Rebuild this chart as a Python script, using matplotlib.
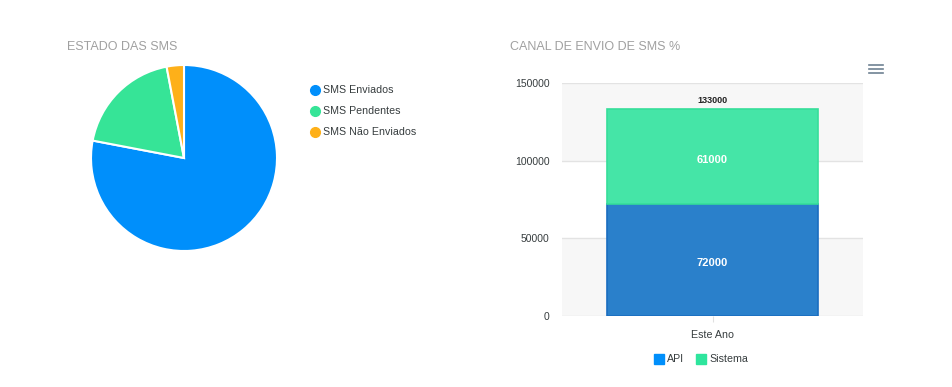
import matplotlib
matplotlib.use("Agg")
import matplotlib.pyplot as plt
from matplotlib.lines import Line2D
from matplotlib.patches import Rectangle

plt.rcParams['font.family'] = ['Liberation Sans', 'DejaVu Sans']

# Pie data
pie_labels = ["SMS Enviados", "SMS Pendentes", "SMS Não Enviados"]
pie_values = [78, 19, 3]
pie_colors = ["#008FFB", "#36E497", "#FEB019"]

# Stacked bar data
categories = ["Este Ano"]
series_names = ["API", "Sistema"]
api_values = [72000]
sistema_values = [61000]
yticks = [0, 50000, 100000, 150000]

fig = plt.figure(figsize=(9.52, 3.87), dpi=100)
W, H = 952, 387

def fx(x): return x / W
def fy(y): return 1 - y / H

# ---------------- Pie ----------------
fig.text(fx(67), fy(47), "ESTADO DAS SMS", color="#a0a0a0", fontsize=9.0, va="center", ha="left")
cx, cy, r = 184, 158, 93
axp = fig.add_axes([fx(cx - r), fy(cy + r), 2 * r / W, 2 * r / H])
axp.pie(pie_values, colors=pie_colors, startangle=90, counterclock=False,
        wedgeprops=dict(edgecolor="white", linewidth=1.5), radius=1.0)
axp.set_xlim(-1.0, 1.0); axp.set_ylim(-1.0, 1.0)
axp.set_aspect("auto")
axp.axis("off")

for i, (lab, col) in enumerate(zip(pie_labels, pie_colors)):
    y = 90 + 21 * i
    fig.add_artist(Line2D([fx(315)], [fy(y)], marker="o", markersize=7, color=col,
                          transform=fig.transFigure, linestyle="none"))
    fig.text(fx(323), fy(y), lab, color="#373d3f", fontsize=7.7, va="center", ha="left")

# ---------------- Stacked bar ----------------
fig.text(fx(510), fy(47), "CANAL DE ENVIO DE SMS %", color="#a0a0a0", fontsize=9.0, va="center", ha="left")
left, right, top, bottom = 562, 863, 83, 316
axb = fig.add_axes([fx(left), fy(bottom), (right - left) / W, (bottom - top) / H])
axb.set_xlim(-0.5, 0.5)
axb.set_ylim(0, 150000)
# alternating bands
for i in range(len(yticks) - 1):
    if i % 2 == 0:
        axb.axhspan(yticks[i], yticks[i + 1], color="#f7f7f7", zorder=0, lw=0)
for t in yticks:
    axb.axhline(t, color="#e3e3e3", lw=1, zorder=1)

x = list(range(len(categories)))
bw = 0.698
b1 = axb.bar(x, api_values, width=bw, color="#2A80CB", edgecolor="#1A6DC0", linewidth=1.2, zorder=2)
b2 = axb.bar(x, sistema_values, bottom=api_values, width=bw, color="#45E5A7", edgecolor="#36DE9A",
             linewidth=1.2, zorder=2)
for xi, a, s in zip(x, api_values, sistema_values):
    axb.text(xi, a / 2 - 2000, f"{a}", color="white", fontsize=8, fontweight="bold", ha="center", va="center", zorder=3)
    axb.text(xi, a + s / 2 - 2000, f"{s}", color="white", fontsize=8, fontweight="bold", ha="center", va="center", zorder=3)
    axb.text(xi, a + s + 5500, f"{a + s}", color="#222222", fontsize=6.5, fontweight="bold", ha="center", va="center", zorder=3)

axb.set_yticks(yticks)
axb.set_yticklabels([str(t) for t in yticks], color="#373d3f", fontsize=7.5)
axb.set_xticks(x)
axb.set_xticklabels(categories, color="#373d3f", fontsize=7.7)
axb.tick_params(axis="y", length=0, pad=9)
axb.tick_params(axis="x", length=4, color="#e0e0e0", pad=6)
for sp in axb.spines.values():
    sp.set_visible(False)

# bar legend
for name, col, lx in [("API", "#008FFB", 654), ("Sistema", "#2EE59D", 696)]:
    fig.add_artist(Rectangle((fx(lx), fy(364)), 10 / W, 10 / H, color=col, transform=fig.transFigure))
    fig.text(fx(lx + 13), fy(359), name, color="#373d3f", fontsize=7.7, va="center", ha="left")

# hamburger menu icon
for yy in [65, 69, 73]:
    fig.add_artist(Line2D([fx(869), fx(883)], [fy(yy), fy(yy)], color="#6e8192", lw=1.2,
                          transform=fig.transFigure))

fig.savefig("out.png", dpi=100)
